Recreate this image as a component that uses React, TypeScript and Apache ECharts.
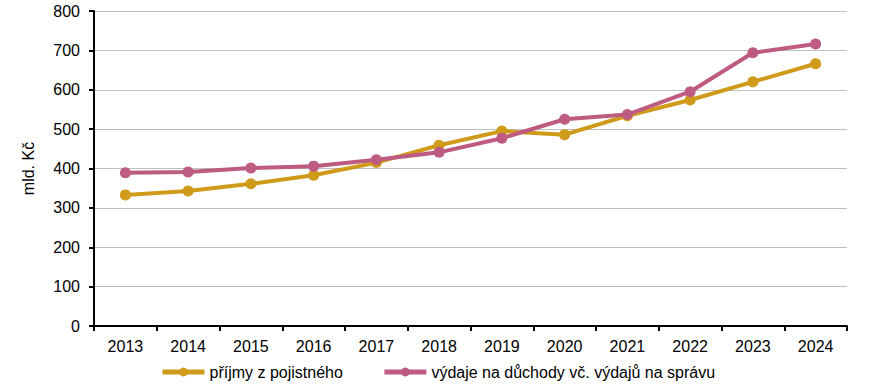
import React, { useEffect, useRef } from "react";
import * as echarts from "echarts";

const years = ["2013", "2014", "2015", "2016", "2017", "2018", "2019", "2020", "2021", "2022", "2023", "2024"];
const prijmy = [333, 343, 361, 383, 415, 459, 495, 486, 534, 574, 620, 666];
const vydaje = [389, 391, 401, 406, 422, 441, 477, 525, 537, 595, 694, 716];
const yTicks = { min: 0, max: 800, interval: 100 };

const FONT = "'Liberation Sans', Arial, sans-serif";
const GOLD = "#D09A1A";
const PINK = "#BE5B81";

export default function App() {
  const ref = useRef<HTMLDivElement>(null);
  useEffect(() => {
    document.body.style.margin = "0";
    const chart = echarts.init(ref.current!, null, { renderer: "svg" });
    chart.setOption({
      animation: false,
      textStyle: { fontFamily: FONT },
      grid: { left: 94, right: 48, top: 11, bottom: 63, containLabel: false },
      legend: {
        top: 364,
        left: 160,
        padding: 0,
        itemWidth: 42,
        itemHeight: 11,
        itemGap: 39,
        lineStyle: { width: 5 },
        textStyle: { fontFamily: FONT, fontSize: 16, color: "#000" },
        data: ["příjmy z pojistného", "výdaje na důchody vč. výdajů na správu"],
      },
      xAxis: {
        type: "category",
        data: years,
        boundaryGap: true,
        axisLine: { lineStyle: { color: "#000", width: 2 } },
        axisTick: { show: true, length: 5, lineStyle: { color: "#000", width: 2 } },
        axisLabel: { color: "#000", fontSize: 16, fontFamily: FONT, margin: 12 },
      },
      yAxis: {
        type: "value",
        min: yTicks.min,
        max: yTicks.max,
        interval: yTicks.interval,
        name: "mld. Kč",
        nameLocation: "middle",
        nameGap: 58,
        nameRotate: 90,
        nameTextStyle: { color: "#000", fontSize: 16, fontFamily: FONT },
        axisLine: { show: true, lineStyle: { color: "#000", width: 2 } },
        axisTick: { show: true, inside: false, length: 5, lineStyle: { color: "#000", width: 2 } },
        axisLabel: { color: "#000", fontSize: 16, fontFamily: FONT, margin: 14 },
        splitLine: { show: true, lineStyle: { color: "#BFBFBF", width: 1 } },
      },
      series: [
        {
          name: "příjmy z pojistného",
          type: "line",
          data: prijmy,
          symbol: "circle",
          symbolSize: 11,
          itemStyle: { color: GOLD },
          lineStyle: { color: GOLD, width: 4 },
        },
        {
          name: "výdaje na důchody vč. výdajů na správu",
          type: "line",
          data: vydaje,
          symbol: "circle",
          symbolSize: 11,
          itemStyle: { color: PINK },
          lineStyle: { color: PINK, width: 4 },
        },
      ],
    });
    return () => chart.dispose();
  }, []);
  return <div ref={ref} style={{ width: 895, height: 389 }} />;
}
